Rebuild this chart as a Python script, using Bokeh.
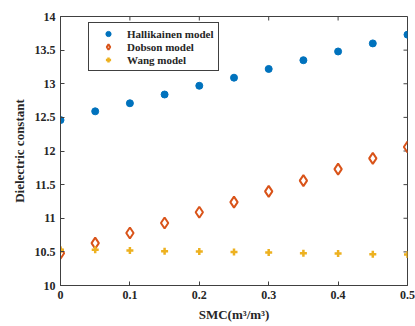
import math
from bokeh.plotting import figure
from bokeh.models import Legend, LegendItem, FixedTicker, Range1d
from bokeh.embed import file_html
from bokeh.resources import INLINE

smc = [0.0, 0.05, 0.1, 0.15, 0.2, 0.25, 0.3, 0.35, 0.4, 0.45, 0.5]
hallikainen = [12.46, 12.59, 12.71, 12.84, 12.97, 13.09, 13.22, 13.35, 13.48, 13.60, 13.73]
dobson = [10.48, 10.63, 10.78, 10.93, 11.09, 11.24, 11.40, 11.56, 11.73, 11.89, 12.06]
wang = [10.53, 10.53, 10.52, 10.51, 10.505, 10.50, 10.49, 10.48, 10.475, 10.465, 10.46]
x_ticks = [0, 0.1, 0.2, 0.3, 0.4, 0.5]
y_ticks = [10, 10.5, 11, 11.5, 12, 12.5, 13, 13.5, 14]

FONT = "Liberation Serif"
AX = "#404040"

p = figure(width=415, height=326, output_backend="svg", toolbar_location=None,
           x_range=Range1d(0, 0.5), y_range=Range1d(10, 14),
           min_border_left=60, min_border_right=8, min_border_top=16, min_border_bottom=41)
p.grid.visible = False
p.outline_line_color = AX
p.outline_line_width = 1
p.background_fill_color = "white"
p.border_fill_color = "white"

for ax in (p.xaxis[0], p.yaxis[0]):
    ax.major_tick_in = 4
    ax.major_tick_out = 0
    ax.minor_tick_in = 0
    ax.minor_tick_out = 0
    ax.axis_line_color = AX
    ax.major_tick_line_color = AX
    ax.major_label_text_font = FONT
    ax.major_label_text_font_style = "bold"
    ax.major_label_text_font_size = "12px"
    ax.major_label_text_color = "#262626"
    ax.axis_label_text_font = FONT
    ax.axis_label_text_font_style = "bold"
    ax.axis_label_text_font_size = "13px"
    ax.axis_label_text_color = "#262626"
    ax.major_label_standoff = 5

p.xaxis.ticker = FixedTicker(ticks=x_ticks)
p.yaxis.ticker = FixedTicker(ticks=y_ticks)
p.xaxis.axis_label = "SMC(m\u00b3/m\u00b3)"
p.yaxis.axis_label = "Dielectric constant"
p.yaxis.major_label_overrides = {10: "10", 11: "11", 12: "12", 13: "13", 14: "14"}
p.xaxis.major_label_overrides = {0: "0"}

# inward ticks on the top and right edges of the box
p.ray(x=x_ticks, y=[14] * len(x_ticks), length=4, length_units="screen",
      angle=-math.pi / 2, line_color=AX, line_width=1)
p.ray(x=[0.5] * len(y_ticks), y=y_ticks, length=4, length_units="screen",
      angle=math.pi, line_color=AX, line_width=1)

r1 = p.scatter(smc, hallikainen, marker="circle", size=7, fill_color="#0072BD", line_color="#0072BD")
r2 = p.scatter(smc, dobson, marker="diamond", size=11, fill_color=None, line_color="#D95319", line_width=2)
r3 = p.scatter(smc, wang, marker="cross", size=7, line_color="#EDB120", line_width=2.5)

legend = Legend(items=[LegendItem(label="Hallikainen model", renderers=[r1]),
                       LegendItem(label="Dobson model", renderers=[r2]),
                       LegendItem(label="Wang model", renderers=[r3])],
                location=(28, 214),
                label_text_font=FONT, label_text_font_style="bold",
                label_text_font_size="11px", label_text_color="#262626",
                label_text_line_height=1.0,
                border_line_color=AX, border_line_alpha=1.0, border_line_width=1,
                padding=4, spacing=0, margin=0,
                glyph_height=13, label_height=13, glyph_width=30, label_standoff=4,
                background_fill_color="white", background_fill_alpha=1.0)
p.add_layout(legend, "center")

open("out.html", "w").write(file_html(p, INLINE))
